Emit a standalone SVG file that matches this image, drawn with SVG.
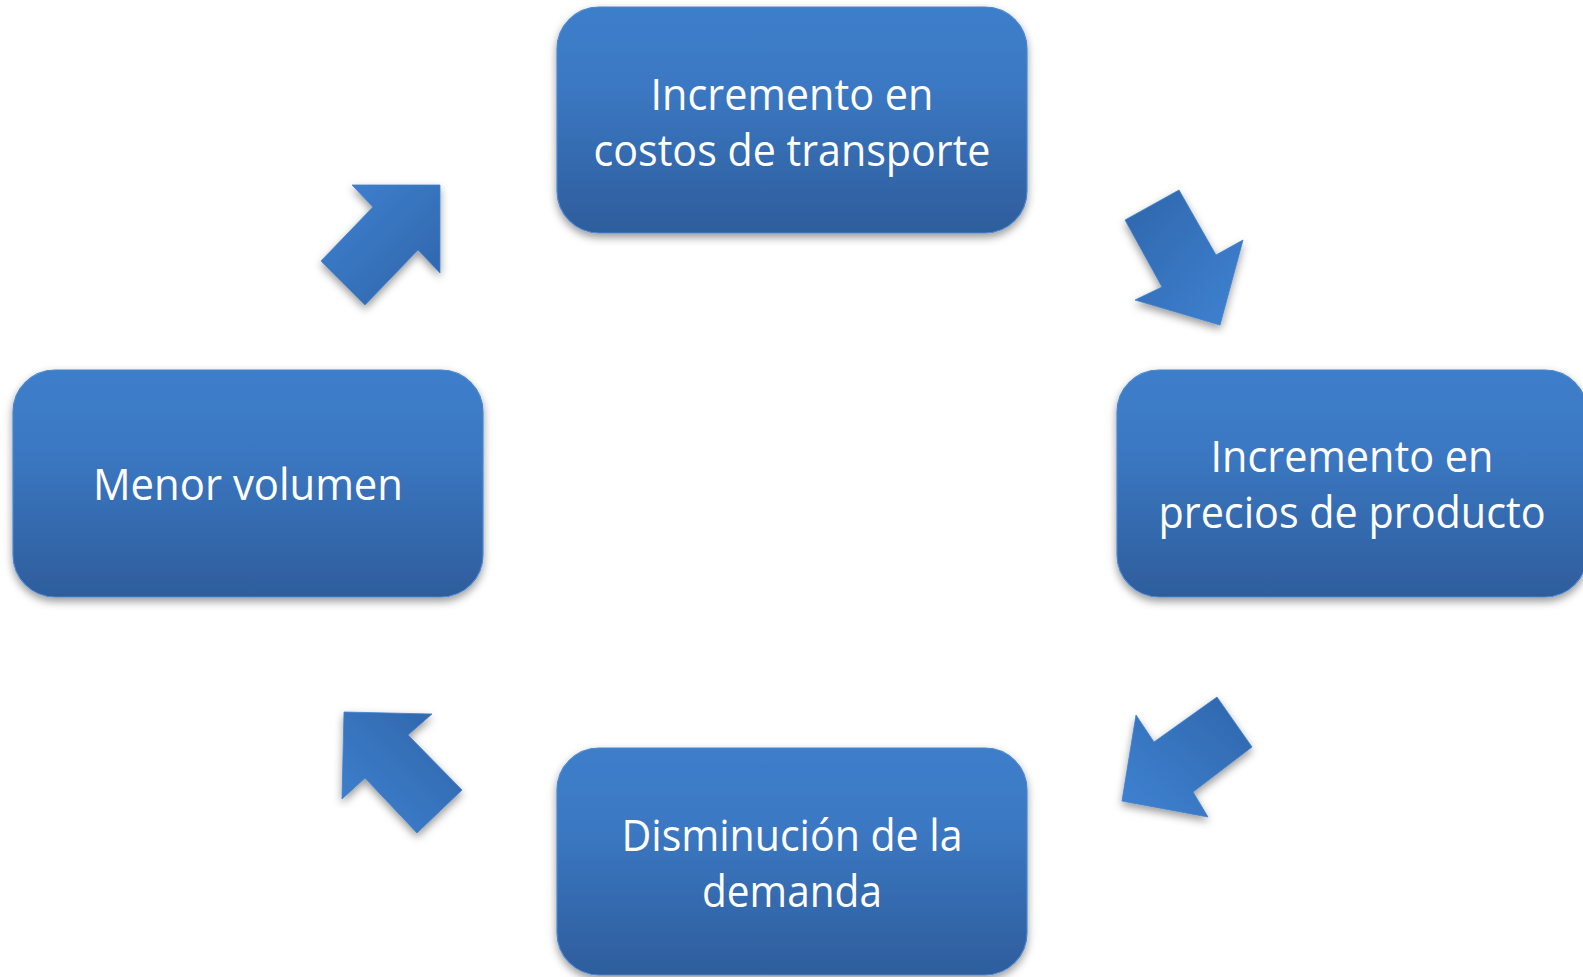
<svg xmlns="http://www.w3.org/2000/svg" width="1583" height="977" viewBox="0 0 1583 977">
  <defs>
    <linearGradient id="boxGrad" x1="0" y1="0" x2="0" y2="1">
      <stop offset="0" stop-color="#3d7eca"/>
      <stop offset="0.35" stop-color="#3b78c3"/>
      <stop offset="1" stop-color="#2e5d9c"/>
    </linearGradient>
    <linearGradient id="arrGradA" x1="0" y1="0" x2="1" y2="1">
      <stop offset="0" stop-color="#3f82d2"/>
      <stop offset="1" stop-color="#2f64a8"/>
    </linearGradient>
    <linearGradient id="arrGradB" x1="0" y1="0" x2="1" y2="1">
      <stop offset="0" stop-color="#2f66ab"/>
      <stop offset="1" stop-color="#3f82d2"/>
    </linearGradient>
    <linearGradient id="arrGradC" x1="1" y1="0" x2="0" y2="1">
      <stop offset="0" stop-color="#2f66ab"/>
      <stop offset="1" stop-color="#3f82d2"/>
    </linearGradient>
    <linearGradient id="arrGradD" x1="1" y1="0" x2="0" y2="1">
      <stop offset="0" stop-color="#2f64a8"/>
      <stop offset="1" stop-color="#3f82d2"/>
    </linearGradient>
    <filter id="shadow" x="-10%" y="-10%" width="120%" height="130%">
      <feDropShadow dx="0" dy="4" stdDeviation="4" flood-color="#000" flood-opacity="0.4"/>
    </filter>
  </defs>
  <style>
    .box { fill: url(#boxGrad); stroke: #4a86cf; stroke-width: 1.2; filter: url(#shadow); }
    .lbl { font-family: "Open Sans", "Noto Sans", sans-serif; font-size: 43px; fill: #ffffff; text-anchor: middle; }
    .arrow { stroke: #3f80cc; stroke-width: 0.8; stroke-linejoin: miter; filter: url(#shadow); }
  </style>
  <rect width="1583" height="977" fill="#ffffff"/>

  <g id="node-costos">
    <rect class="box" x="557" y="7" width="470" height="226" rx="42" ry="42"/>
    <text class="lbl" x="792" y="110" textLength="283" lengthAdjust="spacingAndGlyphs">Incremento en</text>
    <text class="lbl" x="792" y="166" textLength="397" lengthAdjust="spacingAndGlyphs">costos de transporte</text>
  </g>

  <g id="node-precios">
    <rect class="box" x="1117" y="370" width="470" height="227" rx="42" ry="42"/>
    <text class="lbl" x="1352" y="472" textLength="283" lengthAdjust="spacingAndGlyphs">Incremento en</text>
    <text class="lbl" x="1352" y="528" textLength="387" lengthAdjust="spacingAndGlyphs">precios de producto</text>
  </g>

  <g id="node-demanda">
    <rect class="box" x="557" y="748" width="470" height="227" rx="42" ry="42"/>
    <text class="lbl" x="792" y="851" textLength="341" lengthAdjust="spacingAndGlyphs">Disminución de la</text>
    <text class="lbl" x="792" y="907" textLength="180" lengthAdjust="spacingAndGlyphs">demanda</text>
  </g>

  <g id="node-volumen">
    <rect class="box" x="13" y="370" width="470" height="227" rx="42" ry="42"/>
    <text class="lbl" x="248" y="500" textLength="310" lengthAdjust="spacingAndGlyphs">Menor volumen</text>
  </g>

  <g id="connectors">
    <polygon class="arrow" fill="url(#arrGradA)" points="440,185 352,185 373,207 321,261 365,305 418,250 440,273"/>
    <polygon class="arrow" fill="url(#arrGradB)" points="1125,220 1179,190 1216,255 1243,240 1220,325 1135,300 1162,287"/>
    <polygon class="arrow" fill="url(#arrGradC)" points="1217,697 1252,747 1193,792 1208,817 1122,801 1136,715 1154,742"/>
    <polygon class="arrow" fill="url(#arrGradD)" points="344,712 432,714 408,735 462,790 417,833 365,778 342,799"/>
  </g>
</svg>
